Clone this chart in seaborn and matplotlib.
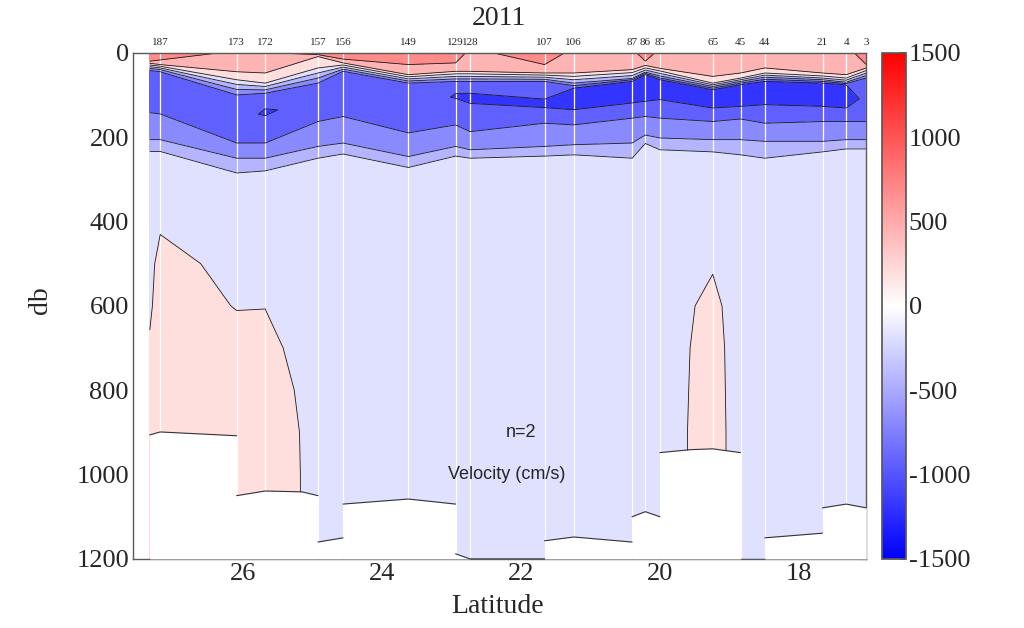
import numpy as np
import matplotlib
matplotlib.use('Agg')
import matplotlib.pyplot as plt
import seaborn as sns
from matplotlib.colors import Normalize
from matplotlib.cm import ScalarMappable
from matplotlib.transforms import blended_transform_factory

sns.set_theme(style='white')
plt.rcParams['font.family'] = ['Liberation Serif', 'DejaVu Serif']
plt.rcParams['axes.unicode_minus'] = False

# --- станции (подписи сверху) ---
station_names = ['187', '173', '172', '157', '156', '149', '129', '128', '107', '106',
                 '87', '86', '85', '65', '45', '44', '21', '4', '3']
station_lat = [27.19, 26.09, 25.68, 24.92, 24.56, 23.62, 22.94, 22.73, 21.66, 21.24,
               20.40, 20.21, 20.00, 19.24, 18.84, 18.49, 17.66, 17.32, 17.03]
edge_lat = 27.34  # левый край разреза (без подписи)

# --- верхний слой: столбцы = край + 19 станций ---
v_surface = [680, 680, 450, 420, 1100, 680, 700, 680, 420, 680, 420, 420, 650, 420, 400, 400, 400, 400, 400, 650]
z_row1 = [20, 17, 10, 10, 6, 15, 28, 24, 10, 28, 10, 10, 20, 10, 10, 10, 10, 10, 10, 28]
v_row1 = [500, 500, 420, 400, 300, 500, 500, 500, 400, 500, 400, 400, 500, 400, 380, 380, 380, 380, 380, 500]
z_p250 = [25, 28, 45, 48, 9, 24, 52, 44, 44, 48, 48, 40, 30, 37, 56, 48, 36, 48, 52, 36]
z_zero = [29, 32, 64, 72, 36, 29, 57, 50, 50, 53, 56, 47, 36, 43, 72, 60, 48, 55, 60, 42]
z_m250_up = [33, 36, 75, 80, 48, 34, 62, 56, 56, 58, 64, 54, 41, 49, 76, 64, 53, 60, 65, 48]
z_m500_up = [37, 40, 87, 88, 60, 39, 67, 62, 62, 63, 72, 61, 46, 55, 80, 68, 58, 64, 70, 54]
z_m750_up = [42, 45, 100, 96, 72, 44, 72, 68, 68, 68, 78, 64, 49, 60, 84, 72, 63, 68, 73, 60]

# ядро течения
z_core_top = [55, 58, 112, 120, 85, 57, 85, 97, 96, 110, 84, 68, 52, 64, 88, 76, 68, 72, 76, 72]
v_core_top = [-850, -850, -850, -960, -850, -850, -850, -1000, -1000, -1000,
              -1000, -1000, -1000, -1000, -1000, -1000, -1000, -1000, -1000, -850]
z_core_mid = [95, 95, 160, 141, 118, 98, 130, 102, 108, 120, 110, 94, 84, 88, 110, 102, 96, 100, 104, 112]
v_core_mid = [-920, -920, -920, -1025, -920, -920, -920, -1010, -1100, -1060,
              -1150, -1150, -1150, -1150, -1150, -1150, -1150, -1150, -1150, -920]
z_core_bot = [130, 132, 200, 162, 150, 138, 177, 108, 120, 130, 135, 119, 115, 111, 131, 127, 123, 127, 131, 150]
v_core_bot = [-850, -850, -850, -960, -850, -850, -850, -1000, -1000, -1000,
              -1000, -1000, -1000, -1000, -1000, -1000, -1000, -1000, -1000, -850]

z_m750_lo = [142, 145, 214, 214, 163, 151, 190, 171, 187, 167, 171, 155, 151, 155, 163, 157, 167, 163, 163, 163]
z_m500_lo = [206, 206, 250, 250, 222, 214, 246, 222, 230, 222, 218, 214, 195, 202, 206, 206, 210, 210, 206, 206]
z_m250_lo = [234, 234, 285, 280, 250, 240, 272, 245, 250, 245, 242, 250, 215, 230, 235, 242, 250, 235, 228, 228]

# глубинная часть
depth_deep = [300, 400, 500, 600, 700, 800, 900, 1000, 1100, 1200]
v_deep = [
    [-150, -150, -150, -150, -150, -150, -150, -150, -150, -150, -150, -150, -150, -150, -150, -150, -150, -150, -150, -150],
    [-120, -40, -120, -120, -120, -120, -120, -120, -120, -120, -120, -120, -120, -120, -120, -120, -120, -120, -120, -120],
    [-80, 90, -80, -80, -120, -120, -120, -120, -120, -120, -120, -120, -120, -120, -20, -120, -120, -120, -120, -120],
    [-40, 120, -10, -5, -120, -120, -120, -120, -120, -120, -120, -120, -120, -120, 60, -120, -120, -120, -120, -120],
    [30, 130, 80, 62, -120, -120, -120, -120, -120, -120, -120, -120, -120, -120, 90, -120, -120, -120, -120, -120],
    [60, 130, 100, 147, -120, -120, -120, -120, -120, -120, -120, -120, -120, -120, 100, -120, -120, -120, -120, -120],
    [60, 130, 100, 223, -120, -120, -120, -120, -120, -120, -120, -120, -120, -120, 110, -120, -120, -120, -120, -120],
    [60, 130, 100, 240, -120, -120, -120, -120, -120, -120, -120, -120, -120, -120, 110, -120, -120, -120, -120, -120],
    [60, 130, 100, 240, -120, -120, -120, -120, -120, -120, -120, -120, -120, -120, 110, -120, -120, -120, -120, -120],
    [60, 130, 100, 240, -120, -120, -120, -120, -120, -120, -120, -120, -120, -120, 110, -120, -120, -120, -120, -120],
]

# дно (белая маска), скачки - повтор широты
bottom_lat = [27.34, 27.19, 26.09, 26.09, 25.68, 25.15, 24.92, 24.92, 24.56, 24.56, 23.62, 22.94,
              22.94, 22.73, 21.66, 21.66, 21.24, 20.40, 20.40, 20.21, 20.00, 20.00, 19.56, 19.24, 18.84,
              18.84, 18.49, 18.49, 17.66, 17.66, 17.32, 17.03]
bottom_db = [906, 899, 908, 1050, 1039, 1041, 1050, 1160, 1150, 1070, 1058, 1070,
             1188, 1200, 1200, 1157, 1148, 1160, 1100, 1088, 1100, 948, 941, 939, 948,
             1200, 1200, 1150, 1139, 1079, 1070, 1079]

# --- сборка сетки ---
section_lat = np.array([edge_lat] + station_lat)
n_col = len(section_lat)
zero_row = [0] * n_col
rows_z = [zero_row, z_row1, z_p250, z_zero, z_m250_up, z_m500_up, z_m750_up,
          z_core_top, z_core_mid, z_core_bot, z_m750_lo, z_m500_lo, z_m250_lo]
rows_v = [v_surface, v_row1, [250] * n_col, [0] * n_col, [-250] * n_col, [-500] * n_col, [-750] * n_col,
          v_core_top, v_core_mid, v_core_bot, [-750] * n_col, [-500] * n_col, [-250] * n_col]
for d, vals in zip(depth_deep, v_deep):
    rows_z.append([d] * n_col)
    rows_v.append(vals)

Y = np.array(rows_z, dtype=float)
V = np.array(rows_v, dtype=float)
X = np.tile(section_lat, (Y.shape[0], 1))

levels = np.arange(-1500, 1501, 250)
cmap = plt.get_cmap('bwr')
norm = Normalize(-1500, 1500)
band_val = [lo + 0.75 * (hi - lo) if hi > 0 else hi - 0.75 * (hi - lo)
            for lo, hi in zip(levels[:-1], levels[1:])]
band_colors = [cmap(norm(v)) for v in band_val]

fig = plt.figure(figsize=(10.24, 6.28), dpi=100)
ax = fig.add_axes([0.130, 0.110, 0.716, 0.806])
ax.set_facecolor('white')

ax.contourf(X, Y, V, levels=levels, colors=band_colors, zorder=1)
ax.vlines(station_lat, 0, 1200, colors='white', linewidth=0.9, zorder=1.5)
ax.contour(X, Y, V, levels=levels, colors='k', linewidths=0.6,
           linestyles='solid', zorder=2)

# маска дна
brk = [0] + [i for i in range(1, len(bottom_lat)) if bottom_lat[i] == bottom_lat[i - 1]] + [len(bottom_lat)]
for a, b in zip(brk[:-1], brk[1:]):
    seg_lat = bottom_lat[a:b]
    seg_db = bottom_db[a:b]
    if len(seg_lat) < 2:
        continue
    ax.fill_between(seg_lat, seg_db, 1200, color='white', linewidth=0, zorder=3)
    ax.plot(seg_lat, seg_db, color='0.2', linewidth=0.8, zorder=4)

ax.set_xlim(27.58, 17.03)
ax.set_ylim(1200, 0)
ax.set_xticks([26, 24, 22, 20, 18])
ax.set_yticks(np.arange(0, 1201, 200))
ax.tick_params(direction='in', length=5, width=0.8, color='0.3', top=True, right=True,
               labelsize=19, pad=3)
for sp in ax.spines.values():
    sp.set_color('0.35')
    sp.set_linewidth(1.0)

trans = blended_transform_factory(ax.transData, ax.transAxes)
for name, la in zip(station_names, station_lat):
    ax.text(la, 1.021, name, transform=trans, ha='center', va='center', fontsize=8)

ax.text(22.0, 901, 'n=2', ha='center', va='center', fontsize=13,
        family=['Liberation Sans', 'DejaVu Sans'], zorder=5)
ax.text(22.21, 1000, 'Velocity (cm/s)', ha='center', va='center', fontsize=13,
        family=['Liberation Sans', 'DejaVu Sans'], zorder=5)

fig.text(0.487, 0.971, '2011', ha='center', va='center', fontsize=20)
fig.text(0.486, 0.035, 'Latitude', ha='center', va='center', fontsize=20)
fig.text(0.040, 0.522, 'db', ha='center', va='center', rotation=90, fontsize=20)

cax = fig.add_axes([0.8613, 0.110, 0.0235, 0.806])
cb = fig.colorbar(ScalarMappable(norm=norm, cmap=cmap), cax=cax,
                  ticks=np.arange(-1500, 1501, 500))
cb.outline.set_edgecolor('0.35')
cax.tick_params(direction='in', length=4, color='0.3', labelsize=19, pad=2)

plt.savefig('out.png', dpi=100)
